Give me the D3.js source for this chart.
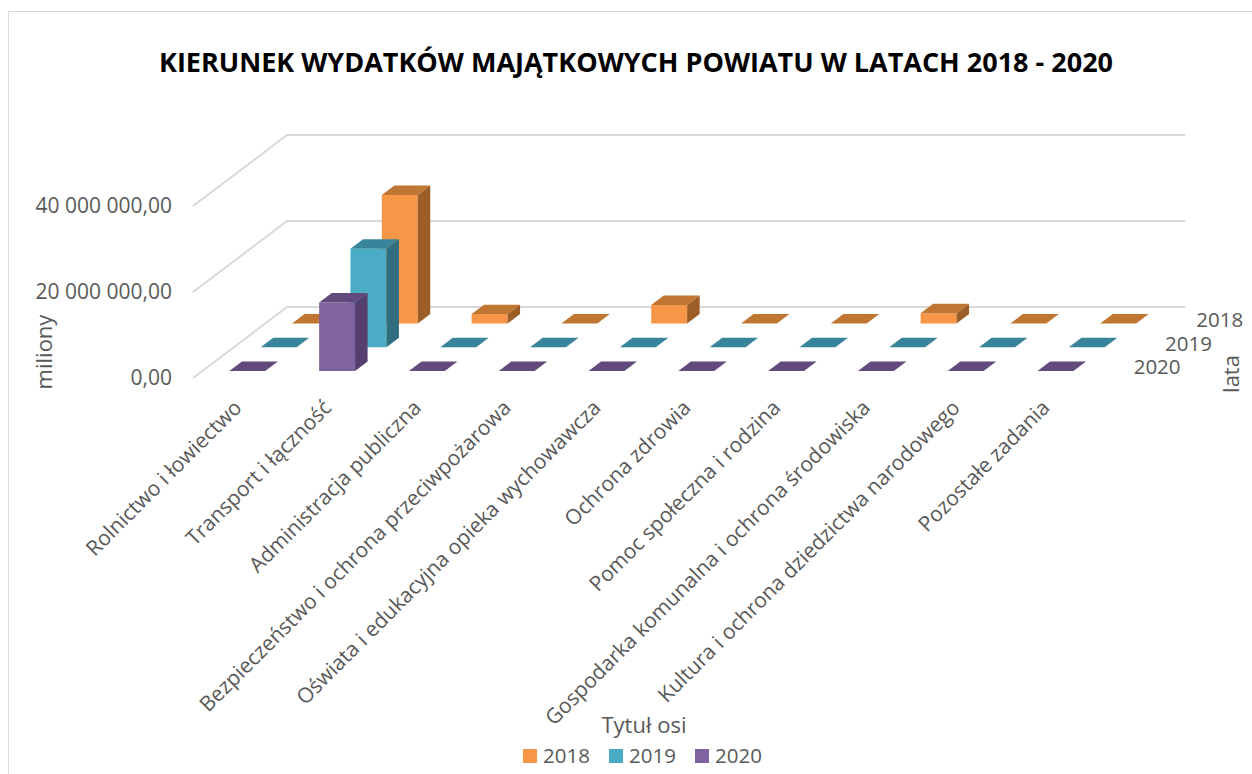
<!DOCTYPE html>
<html>
<head>
<meta charset="utf-8">
<script src="https://cdn.jsdelivr.net/npm/d3@7"></script>
<style>
  body { margin: 0; background: #fff; }
  text { font-family: "Open Sans", sans-serif; fill: #595959; }
</style>
</head>
<body>
<div id="chart"></div>
<script>
const width = 1252,
      height = 774;

const categories = [
  'Rolnictwo i łowiectwo',
  'Transport i łączność',
  'Administracja publiczna',
  'Bezpieczeństwo i ochrona przeciwpożarowa',
  'Oświata i edukacyjna opieka wychowawcza',
  'Ochrona zdrowia',
  'Pomoc społeczna i rodzina',
  'Gospodarka komunalna i ochrona środowiska',
  'Kultura i ochrona dziedzictwa narodowego',
  'Pozostałe zadania'
];
const years = ['2018', '2019', '2020'];
const values2018 = [0, 29900000, 2200000, 0, 4300000, 0, 0, 2400000, 0, 0];
const values2019 = [0, 22900000, 0, 0, 0, 0, 0, 0, 0, 0];
const values2020 = [0, 15900000, 0, 0, 0, 0, 0, 0, 0, 0];
const yTicks = [0, 20000000, 40000000];

const colors = {
  '2018': { front: '#F79646', top: '#C07633', side: '#9D5D27' },
  '2019': { front: '#4BACC6', top: '#38849A', side: '#2F6E7F' },
  '2020': { front: '#8064A2', top: '#624B7C', side: '#553F6E' }
};
const seriesValues = { '2018': values2018, '2019': values2019, '2020': values2020 };

// oblique depth offset of the floor (front -> back)
const DX = 94, DY = 71;

const svg = d3.select('#chart')
              .append('svg')
              .attr('width', width)
              .attr('height', height);

svg.append('rect')
   .attr('x', 8.5).attr('y', 11.5)
   .attr('width', 1300).attr('height', 900)
   .attr('fill', 'none')
   .attr('stroke', '#D9D9D9');

const x = d3.scaleBand()
            .domain(categories)
            .range([193, 1091])
            .paddingInner(0.6)
            .paddingOuter(0.3);

// depth: front row is 2020, back row is 2018
const z = d3.scaleBand()
            .domain(['2020', '2019', '2018'])
            .range([0, 1])
            .paddingInner(0.6)
            .paddingOuter(0.3);

const y = d3.scaleLinear()
            .domain([0, 40000000])
            .range([378, 206]);

function proj(px, pz, v) {
  return [px + DX * pz, y(v) - DY * pz];
}

const pl = d3.formatLocale({ decimal: ',', thousands: ' ', grouping: [3], currency: ['', ''] });
const fmt = pl.format(',.2f');

// gridlines: side wall + back wall
const grid = svg.append('g');
yTicks.forEach(function(t) {
  const pts = [proj(193, 0, t), proj(193, 1, t), proj(1091, 1, t)];
  grid.append('polyline')
      .attr('points', pts.map(p => p.join(',')).join(' '))
      .attr('fill', 'none')
      .attr('stroke', '#D9D9D9')
      .attr('stroke-width', 2);
});

svg.append('g')
   .selectAll('text')
   .data(yTicks)
   .join('text')
   .attr('x', 172)
   .attr('y', d => y(d))
   .attr('dy', '0.35em')
   .attr('text-anchor', 'end')
   .attr('font-size', 21)
   .text(d => fmt(d));

// bars, back row first
const bars = svg.append('g');
['2018', '2019', '2020'].forEach(function(yr) {
  const c = colors[yr];
  categories.forEach(function(cat, i) {
    const v = seriesValues[yr][i];
    const x0 = x(cat), x1 = x0 + x.bandwidth();
    const z0 = z(yr), z1 = z0 + z.bandwidth();
    const poly = pts => pts.map(p => p.join(',')).join(' ');
    const g = bars.append('g');
    if (v > 0) {
      g.append('polygon')
       .attr('points', poly([proj(x0, z0, 0), proj(x1, z0, 0), proj(x1, z0, v), proj(x0, z0, v)]))
       .attr('fill', c.front);
      g.append('polygon')
       .attr('points', poly([proj(x1, z0, 0), proj(x1, z1, 0), proj(x1, z1, v), proj(x1, z0, v)]))
       .attr('fill', c.side);
    }
    g.append('polygon')
     .attr('points', poly([proj(x0, z0, v), proj(x1, z0, v), proj(x1, z1, v), proj(x0, z1, v)]))
     .attr('fill', c.top);
  });
});

// category labels
svg.append('g')
   .selectAll('text')
   .data(categories)
   .join('text')
   .attr('transform', d => 'translate(' + (x(d) + x.bandwidth() / 2 + 5) + ',409) rotate(-45)')
   .attr('text-anchor', 'end')
   .attr('font-size', 21)
   .text(d => d);

// series (depth) labels
svg.append('g')
   .selectAll('text')
   .data(years)
   .join('text')
   .attr('x', d => proj(1091, z(d) + z.bandwidth() / 2, 0)[0] + 27)
   .attr('y', d => proj(1091, z(d) + z.bandwidth() / 2, 0)[1] + 8)
   .attr('font-size', 20.5)
   .text(d => d);

// title
svg.append('text')
   .attr('x', 636)
   .attr('y', 72)
   .attr('text-anchor', 'middle')
   .attr('font-weight', 'bold')
   .attr('font-size', 27)
   .style('fill', '#000')
   .text('KIERUNEK WYDATKÓW MAJĄTKOWYCH POWIATU W LATACH 2018 - 2020');

// axis titles
svg.append('text')
   .attr('transform', 'translate(52,352) rotate(-90)')
   .attr('text-anchor', 'middle')
   .attr('font-size', 22)
   .text('miliony');

svg.append('text')
   .attr('transform', 'translate(1239,374) rotate(-90)')
   .attr('text-anchor', 'middle')
   .attr('font-size', 22)
   .text('lata');

svg.append('text')
   .attr('x', 644)
   .attr('y', 733)
   .attr('text-anchor', 'middle')
   .attr('font-size', 22)
   .text('Tytuł osi');

// legend
const legend = svg.append('g')
                  .selectAll('g')
                  .data(years)
                  .join('g')
                  .attr('transform', (d, i) => 'translate(' + (523 + i * 86) + ',0)');
legend.append('rect')
      .attr('y', 749)
      .attr('width', 14)
      .attr('height', 14)
      .attr('fill', d => colors[d].front);
legend.append('text')
      .attr('x', 20)
      .attr('y', 763)
      .attr('font-size', 20.5)
      .text(d => d);
</script>
</body>
</html>
